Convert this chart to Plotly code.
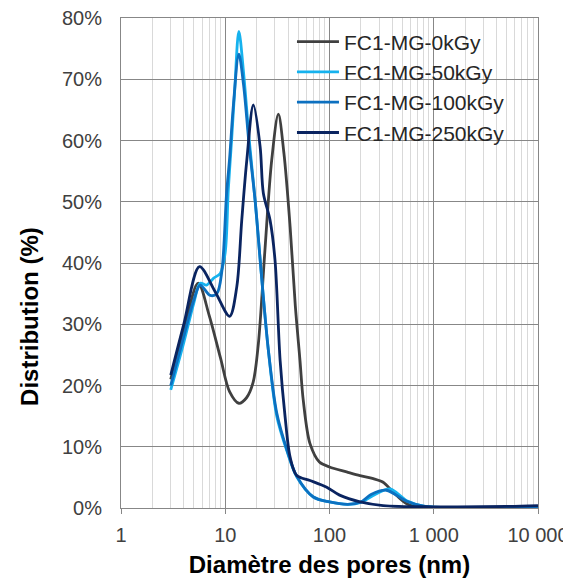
import plotly.graph_objects as go

# pore diameter (nm) / distribution (%)
x_0kgy = [3, 4, 5.5, 7, 9, 11, 13.5, 16, 18.5, 20.8, 24, 27.9, 32.3, 36.5, 41.9, 47, 52.1,
          56, 65, 80, 100, 146, 196, 263, 327, 408, 550, 740, 1000, 10000]
y_0kgy = [21, 29, 36.7, 31.5, 24.5, 19, 17.1, 18, 20.5, 26.9, 42, 56.8, 64.3, 58, 45.9, 33, 24.1,
          17.6, 10.5, 7.5, 6.7, 5.9, 5.3, 4.8, 4.2, 2.6, 0.7, 0.2, 0.1, 0.1]

x_50kgy = [3, 4, 5, 5.75, 6.6, 7.7, 8.95, 9.97, 10.7, 11.5, 12.3, 13.5, 15, 17, 19.4, 22.5,
           25.9, 31.2, 38.9, 48.5, 70, 100, 150, 200, 260, 380, 550, 800, 1000, 10000]
y_50kgy = [19.3, 27, 33.5, 36.7, 36.4, 37.5, 38.3, 41.6, 52, 60, 68, 77.8, 71, 60, 50, 37,
           25.8, 15, 9.4, 5.1, 1.8, 1.0, 0.6, 0.9, 2.0, 3.1, 1.2, 0.3, 0.15, 0.1]

x_100kgy = [3, 4, 5, 5.75, 7.17, 8.3, 9.3, 10.3, 11, 12, 13.5, 15, 17, 19.4, 22.5,
            25.9, 31.2, 38.9, 48.5, 70, 100, 150, 200, 250, 350, 550, 800, 1000, 10000]
y_100kgy = [20, 28, 34, 36.4, 34.7, 35, 38.8, 51.4, 57, 66, 74.1, 69, 59, 50, 37,
            25.8, 15.5, 9.6, 5.2, 1.8, 1.0, 0.6, 1.0, 2.2, 2.9, 1.1, 0.3, 0.15, 0.1]

x_250kgy = [3, 4, 5.66, 8.0, 11, 12.9, 14.4, 16.1, 18.6, 21.6, 23.2, 26.9, 30, 33.6, 37.5,
            41.9, 48.5, 65, 94, 125, 196, 327, 1000, 5000, 10000]
y_250kgy = [21.7, 30, 39.4, 35.3, 31.3, 36.1, 47, 56.8, 65.8, 59, 51.4, 47, 40.5, 24.1, 14.9,
            8.3, 5.3, 4.5, 3.4, 2.1, 1.0, 0.4, 0.2, 0.25, 0.4]

series_names = ["FC1-MG-0kGy", "FC1-MG-50kGy", "FC1-MG-100kGy", "FC1-MG-250kGy"]
series_x = [x_0kgy, x_50kgy, x_100kgy, x_250kgy]
series_y = [y_0kgy, y_50kgy, y_100kgy, y_250kgy]
colors = ["#404040", "#16B2EE", "#0C70C0", "#0A2460"]

x_tickvals = [1, 10, 100, 1000, 10000]
x_ticktext = ["1", "10", "100", "1 000", "10 000"]
x_minor = [m * 10 ** e for e in range(4) for m in range(2, 10)]

fig = go.Figure()
for name, xs, ys, c in zip(series_names, series_x, series_y, colors):
    fig.add_trace(go.Scatter(x=xs, y=ys, name=name, mode="lines",
                             line=dict(color=c, width=2.8, shape="spline", smoothing=0.9)))

# the page body adds an 8px margin, so the figure is sized a bit smaller than the window
fig.update_layout(
    width=563, height=575,
    margin=dict(l=113, r=33, t=10, b=75),
    paper_bgcolor="white", plot_bgcolor="white",
    font=dict(family="Liberation Sans, Arial, sans-serif", size=20, color="#404040"),
    legend=dict(x=0.41, y=0.993, xanchor="left", yanchor="top", itemwidth=42,
                bgcolor="rgba(0,0,0,0)", font=dict(size=21, color="#262626")),
    showlegend=True,
)
fig.update_xaxes(
    type="log", range=[0, 4], automargin=False, ticklabeloverflow="allow",
    tickvals=x_tickvals, ticktext=x_ticktext,
    showgrid=True, gridcolor="#878787", gridwidth=1,
    minor=dict(tickvals=x_minor, showgrid=True, gridcolor="#D9D9D9", gridwidth=1),
    showline=True, linecolor="#878787", linewidth=1, mirror=True,
    ticks="outside", ticklen=5, tickcolor="#878787", ticklabelstandoff=4,
    title=dict(text="<b>Diamètre des pores (nm)</b>", font=dict(size=24, color="#000000"), standoff=11),
)
fig.update_yaxes(
    range=[0, 80], dtick=10, ticksuffix="%", automargin=False, ticklabeloverflow="allow",
    showgrid=True, gridcolor="#878787", gridwidth=1, zeroline=False,
    showline=True, linecolor="#878787", linewidth=1, mirror=True,
    ticklabelstandoff=14,
)
# y title sits a little below the plot centre in the original
fig.add_annotation(text="<b>Distribution (%)</b>", textangle=-90, showarrow=False,
                   xref="paper", yref="paper", x=0, y=0.39, xanchor="center", yanchor="middle",
                   xshift=-91, font=dict(size=24, color="#000000"))

fig.write_html("out.html")
